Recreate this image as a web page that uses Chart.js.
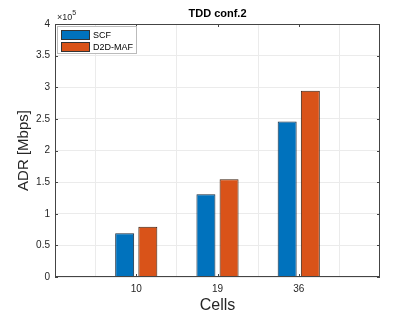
<!DOCTYPE html>
<html lang="en">
<head>
<meta charset="UTF-8">
<title>TDD conf.2</title>
<script src="https://cdn.jsdelivr.net/npm/chart.js"></script>
<style>
  body { margin: 0; background: #fff; }
  canvas { display: block; }
</style>
</head>
<body>
<canvas id="myChart" width="420" height="315"></canvas>
<script>
const cells = ['10', '19', '36']
const scf = [69000, 131000, 246000]
const d2dMaf = [79500, 154500, 294500]
const yTicks = [0, 0.5, 1, 1.5, 2, 2.5, 3, 3.5, 4]

const FONT = "'Liberation Sans', Arial, sans-serif"
const AXIS = '#444'

// empty slots at both ends so the axis runs from 0 to 4
const labels = [''].concat(cells, [''])
const pad = arr => [null].concat(arr, [null])

const boxPlugin = {
  id: 'box',
  afterDraw(chart) {
    const ctx = chart.ctx
    const a = chart.chartArea
    const xs = chart.scales.x, ys = chart.scales.y
    ctx.save()
    ctx.strokeStyle = AXIS
    ctx.lineWidth = 1
    ctx.strokeRect(a.left + 0.5, a.top + 0.5, a.right - a.left - 1, a.bottom - a.top - 1)
    // inside tick marks
    ctx.beginPath()
    yTicks.forEach(v => {
      const y = Math.round(ys.getPixelForValue(v * 1e5)) + 0.5
      ctx.moveTo(a.left, y); ctx.lineTo(a.left + 3, y)
      ctx.moveTo(a.right, y); ctx.lineTo(a.right - 3, y)
    })
    cells.forEach((c, i) => {
      const x = Math.round(xs.getPixelForValue(i + 1)) + 0.5
      ctx.moveTo(x, a.bottom); ctx.lineTo(x, a.bottom - 3)
      ctx.moveTo(x, a.top); ctx.lineTo(x, a.top + 3)
    })
    ctx.stroke()

    // title
    ctx.fillStyle = '#000'
    ctx.font = 'bold 11px ' + FONT
    ctx.textAlign = 'center'
    ctx.textBaseline = 'middle'
    ctx.fillText('TDD conf.2', (a.left + a.right) / 2, 14)

    // exponent
    ctx.fillStyle = '#262626'
    ctx.textAlign = 'left'
    ctx.textBaseline = 'alphabetic'
    ctx.font = '9px ' + FONT
    ctx.fillText('\u00d710', a.left + 2, a.top - 4)
    const w = ctx.measureText('\u00d710').width
    ctx.font = '7px ' + FONT
    ctx.fillText('5', a.left + 2 + w, a.top - 9)

    // legend
    const lx = a.left + 2, ly = a.top + 2, lw = 79, lh = 27
    ctx.fillStyle = '#fff'
    ctx.fillRect(lx, ly, lw, lh)
    ctx.strokeStyle = '#bbb'
    ctx.strokeRect(lx + 0.5, ly + 0.5, lw, lh)
    chart.data.datasets.forEach((ds, i) => {
      const sy = ly + 4 + i * 12
      ctx.fillStyle = ds.backgroundColor
      ctx.fillRect(lx + 4, sy, 29, 10)
      ctx.strokeStyle = '#333'
      ctx.strokeRect(lx + 4.5, sy + 0.5, 28, 9)
      ctx.fillStyle = '#000'
      ctx.font = '9px ' + FONT
      ctx.textBaseline = 'middle'
      ctx.fillText(ds.label, lx + 36, sy + 5.5)
    })
    ctx.restore()
  }
}

new Chart(document.getElementById('myChart'), {
  type: 'bar',
  data: {
    labels: labels,
    datasets: [
      { label: 'SCF', data: pad(scf), backgroundColor: '#0072BD', borderColor: '#1a2a3a', borderWidth: 1 },
      { label: 'D2D-MAF', data: pad(d2dMaf), backgroundColor: '#D95319', borderColor: '#3a2010', borderWidth: 1 }
    ]
  },
  options: {
    responsive: false,
    animation: false,
    layout: { padding: { top: 24, right: 40, left: 0, bottom: 0 } },
    categoryPercentage: 0.57,
    barPercentage: 0.82,
    plugins: { legend: { display: false }, tooltip: { enabled: false } },
    scales: {
      x: {
        offset: false,
        grid: { color: '#ebebeb', drawTicks: false },
        border: { display: false },
        ticks: { color: '#262626', font: { family: FONT, size: 10 }, padding: 6, autoSkip: false, maxRotation: 0 },
        title: { display: true, text: 'Cells', color: '#262626', font: { family: FONT, size: 16 }, padding: { top: 3, bottom: 0 } },
        afterFit(scale) { scale.height = 38 }
      },
      y: {
        min: 0, max: 400000,
        grid: { color: '#ebebeb', drawTicks: false },
        border: { display: false },
        ticks: {
          stepSize: 50000,
          color: '#262626',
          font: { family: FONT, size: 10 },
          padding: 5,
          callback: v => String(v / 1e5)
        },
        title: { display: true, text: 'ADR [Mbps]', color: '#262626', font: { family: FONT, size: 15 }, padding: { top: 15, bottom: 0 } },
        afterFit(scale) { scale.width = 55 }
      }
    }
  },
  plugins: [boxPlugin]
})
</script>
</body>
</html>
